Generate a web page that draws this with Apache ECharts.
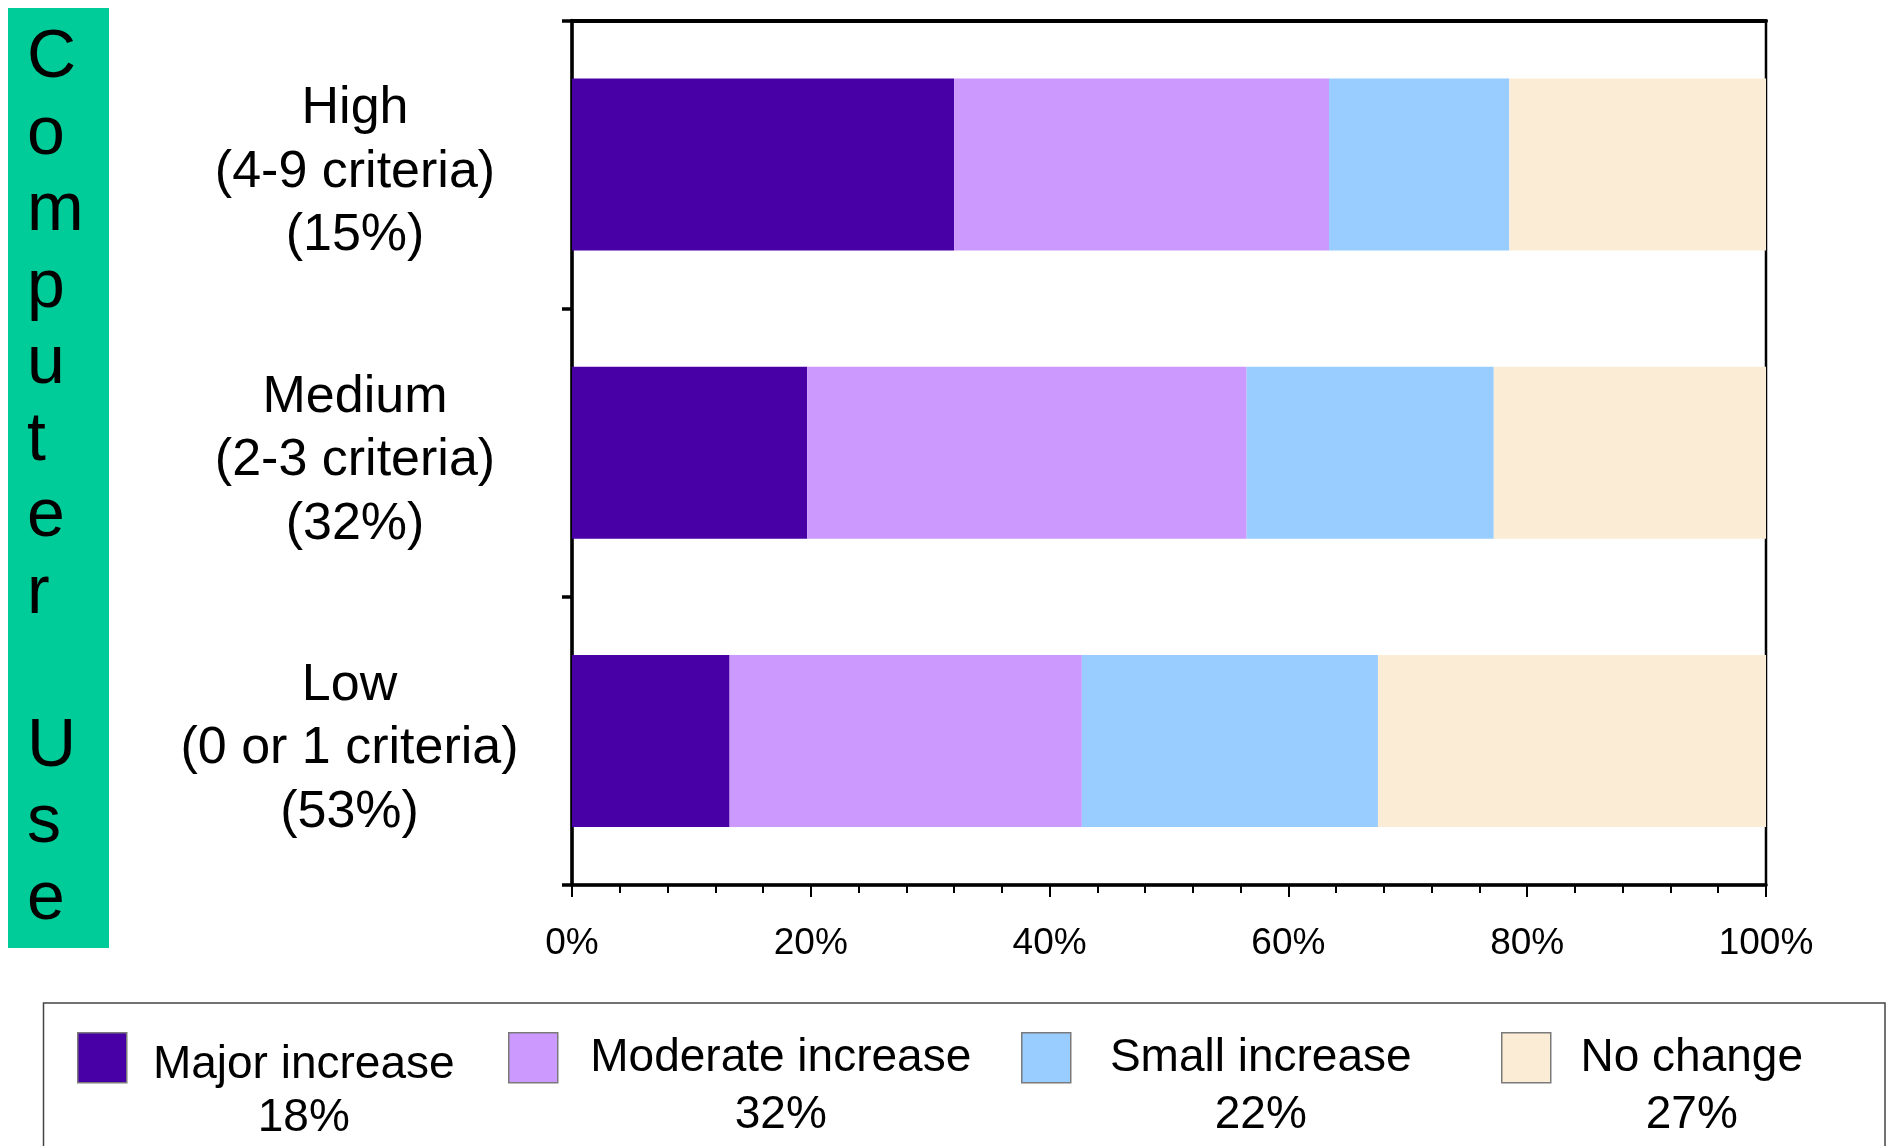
<!DOCTYPE html>
<html>
<head>
<meta charset="utf-8">
<script src="https://cdn.jsdelivr.net/npm/echarts@6/dist/echarts.min.js"></script>
<style>
html,body{margin:0;padding:0;background:#fff;}
#chart{width:1892px;height:1146px;}
</style>
</head>
<body>
<div id="chart"></div>
<script>
// ---- data ----
const categories = ['High', 'Medium', 'Low'];
const criteria = ['(4-9 criteria)', '(2-3 criteria)', '(0 or 1 criteria)'];
const groupShare = ['(15%)', '(32%)', '(53%)'];
const seriesNames = ['Major increase', 'Moderate increase', 'Small increase', 'No change'];
const overallShare = ['18%', '32%', '22%', '27%'];
const majorIncrease = [32.0, 19.7, 13.2];
const moderateIncrease = [31.4, 36.8, 29.5];
const smallIncrease = [15.1, 20.7, 24.8];
const noChange = [21.5, 22.8, 32.5];
const sideTitle = 'Computer Use';

// ---- styling ----
const FONT = '"Liberation Sans", Arial, sans-serif';
const colors = ['#4800A6', '#CC99FF', '#99CCFF', '#FBEDD5'];
const seriesData = [majorIncrease, moderateIncrease, smallIncrease, noChange];

const legendLeft = [77, 508, 1021, 1501];
const legendTextW = [344, 436, 370, 272];
const legendPadTop = [69, 59, 59, 59];
const legendLineH = [53, 57, 57, 57];

const legends = seriesNames.map((name, i) => ({
  show: true,
  left: legendLeft[i],
  top: 1032,
  padding: 0,
  orient: 'horizontal',
  icon: 'rect',
  itemWidth: 49,
  itemHeight: 50,
  selectedMode: false,
  data: [name],
  itemStyle: { borderColor: '#7a7a7a', borderWidth: 1.5 },
  formatter: n => '{a|' + n + '}\n{b|' + overallShare[i] + '}',
  textStyle: {
    padding: [legendPadTop[i], 0, 0, 0],
    rich: {
      a: { fontFamily: FONT, fontSize: 46, lineHeight: legendLineH[i], width: legendTextW[i], align: 'center', color: '#000' },
      b: { fontFamily: FONT, fontSize: 46, lineHeight: legendLineH[i], width: legendTextW[i], align: 'center', color: '#000' }
    }
  }
}));

const catTextStyle = { fontFamily: FONT, fontSize: 52, lineHeight: 63.5, color: '#000', align: 'center' };

const chart = echarts.init(document.getElementById('chart'), null, { renderer: 'canvas' });

const option = {
  backgroundColor: '#fff',
  animation: false,
  textStyle: { fontFamily: FONT },
  legend: legends,
  grid: {
    left: 572, right: 126, top: 20.5, bottom: 261,
    show: true, borderColor: '#000', borderWidth: 2.5, backgroundColor: 'transparent'
  },
  xAxis: [{
    type: 'value',
    min: 0, max: 100, interval: 20,
    position: 'bottom',
    splitLine: { show: false },
    axisLine: { show: true, lineStyle: { color: '#000', width: 3.5 } },
    axisTick: { show: true, inside: false, length: 12, lineStyle: { color: '#000', width: 2 } },
    minorTick: { show: true, splitNumber: 5, length: 8, lineStyle: { color: '#000', width: 2 } },
    axisLabel: {
      formatter: '{value}%', fontFamily: FONT, fontSize: 37, lineHeight: 37,
      color: '#000', margin: 40.5
    }
  }, {
    type: 'value',
    min: 0, max: 100, interval: 20,
    position: 'top',
    splitLine: { show: false },
    axisLine: { show: true, lineStyle: { color: '#000', width: 4 } },
    axisTick: { show: false },
    axisLabel: { show: false }
  }],
  yAxis: {
    type: 'category',
    inverse: true,
    data: categories.map((c, i) => c + '\n' + criteria[i] + '\n' + groupShare[i]),
    axisLine: { show: true, lineStyle: { color: '#000', width: 3.5 } },
    axisTick: { show: true, length: 10, lineStyle: { color: '#000', width: 3.5 } },
    splitLine: { show: false },
    axisLabel: {
      fontFamily: FONT, fontSize: 52, lineHeight: 63.5, color: '#000',
      align: 'center', margin: 217,
      formatter: (value, idx) => {
        const tok = value === categories[2] + '\n' + criteria[2] + '\n' + groupShare[2] ? 'l' : 'a';
        return '{s| }\n' + value.split('\n').map(t => '{' + tok + '|' + t + '}').join('\n');
      },
      rich: {
        s: { fontSize: 10, lineHeight: 16 },
        a: Object.assign({}, catTextStyle),
        l: Object.assign({ padding: [0, 11, 0, 0] }, catTextStyle)
      }
    }
  },
  graphic: [
    {
      type: 'rect', z: -10, silent: true,
      shape: { x: 8, y: 8, width: 101, height: 940 },
      style: { fill: '#00CC99' }
    },
    {
      type: 'text', z: 10, silent: true,
      x: 27, y: 20,
      style: {
        text: sideTitle.split('').join('\n'),
        font: '68px ' + FONT,
        lineHeight: 76.5,
        fill: '#000',
        align: 'left',
        verticalAlign: 'top'
      }
    },
    {
      type: 'rect', z: -10, silent: true,
      shape: { x: 43.5, y: 1003, width: 1841.5, height: 200 },
      style: { fill: 'none', stroke: '#444', lineWidth: 1.5 }
    }
  ],
  series: seriesNames.map((name, i) => ({
    name: name,
    type: 'bar',
    stack: 'total',
    xAxisIndex: 0,
    barWidth: 172,
    data: seriesData[i],
    itemStyle: { color: colors[i] },
    emphasis: { disabled: true }
  }))
};

chart.setOption(option);
</script>
</body>
</html>
